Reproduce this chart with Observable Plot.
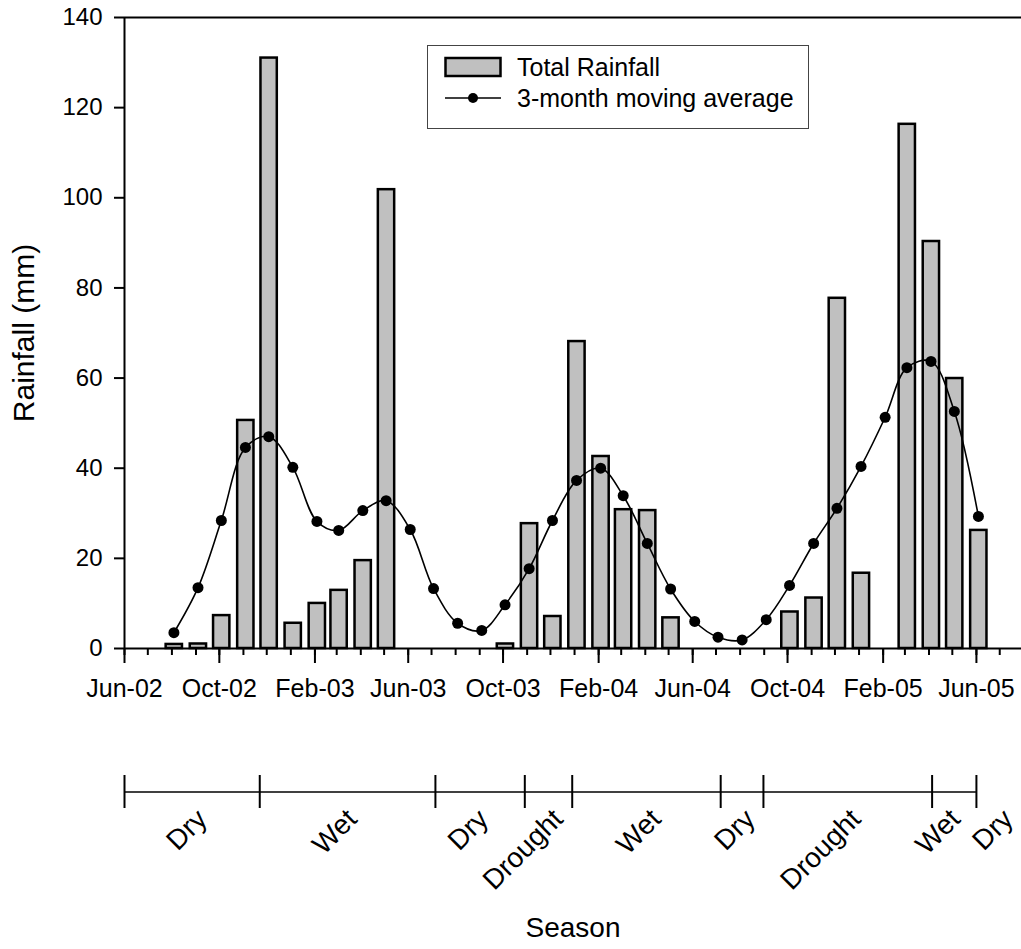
<!DOCTYPE html>
<html>
<head>
<meta charset="utf-8">
<script src="https://cdn.jsdelivr.net/npm/d3@7"></script>
<script src="https://cdn.jsdelivr.net/npm/@observablehq/plot@0.6"></script>
<style>
  body { margin: 0; background: white; }
  #wrap { position: relative; width: 1021px; height: 949px; font-family: "Liberation Sans", Arial, sans-serif; }
  #wrap svg { display: block; }
  #legend {
    position: absolute; left: 427px; top: 45px; width: 382px; height: 84px;
    border: 1.5px solid #444; box-sizing: border-box; background: white;
  }
  #legend .row { position: absolute; left: 16px; display: flex; align-items: center; font-size: 25px; line-height: 30px; }
  #legend .row svg { margin-right: 15px; }
</style>
</head>
<body>
<div id="wrap">
  <div id="main"></div>
  <div id="season"></div>
  <div id="legend">
    <div class="row" style="top:6px"><svg width="58" height="22"><rect x="1.5" y="2" width="55" height="18" fill="#c0c0c0" stroke="black" stroke-width="2.5"/></svg><span>Total Rainfall</span></div>
    <div class="row" style="top:37px"><svg width="58" height="22"><line x1="1" x2="57" y1="11" y2="11" stroke="black" stroke-width="1.5"/><circle cx="29" cy="11" r="5" fill="black"/></svg><span>3-month moving average</span></div>
  </div>
</div>
<script>
// Monthly rainfall, Aug 2002 – Jun 2005
const months = [
  "2002-08","2002-09","2002-10","2002-11","2002-12",
  "2003-01","2003-02","2003-03","2003-04","2003-05","2003-06","2003-07","2003-08","2003-09","2003-10","2003-11","2003-12",
  "2004-01","2004-02","2004-03","2004-04","2004-05","2004-06","2004-07","2004-08","2004-09","2004-10","2004-11","2004-12",
  "2005-01","2005-02","2005-03","2005-04","2005-05","2005-06"
];
const totalRainfall = [
  0.9, 1.0, 7.3, 50.6, 131.0,
  5.6, 10.0, 12.9, 19.5, 101.8, 0, 0, 0, 0, 1.0, 27.7, 7.1,
  68.1, 42.6, 30.8, 30.6, 6.8, 0, 0, 0, 0, 8.1, 11.2, 77.7,
  16.7, 0, 116.3, 90.3, 59.9, 26.2
];
const movingAverage = [
  3.5, 13.5, 28.4, 44.6, 47.0,
  40.2, 28.2, 26.2, 30.6, 32.8, 26.4, 13.3, 5.6, 4.0, 9.7, 17.7, 28.4,
  37.3, 40.0, 33.9, 23.3, 13.2, 6.0, 2.5, 1.9, 6.4, 14.0, 23.3, 31.1,
  40.4, 51.3, 62.3, 63.7, 52.6, 29.3
];
const xTickLabels = ["Jun-02","Oct-02","Feb-03","Jun-03","Oct-03","Feb-04","Jun-04","Oct-04","Feb-05","Jun-05"];
const yTicks = [0, 20, 40, 60, 80, 100, 120, 140];

// Season periods along the time axis
const seasonBounds = ["2002-06-01","2002-11-22","2003-07-06","2003-10-29","2003-12-29","2004-07-07","2004-08-31","2005-04-05","2005-06-01"];
const seasonNames = ["Dry","Wet","Dry","Drought","Wet","Dry","Drought","Wet","Dry"];
const seasonLabelAt = ["2002-09-09","2003-03-21","2003-09-06","2003-12-11","2004-04-15","2004-08-14","2004-12-28","2005-05-05","2005-07-12"];

const parseMonth = d3.utcParse("%Y-%m");
const parseDay = d3.utcParse("%Y-%m-%d");
const parseTick = d3.utcParse("%b-%y");

const rows = months.map((m, i) => ({date: parseMonth(m), rain: totalRainfall[i], avg: movingAverage[i]}));
const xDomain = [parseDay("2002-06-01"), parseDay("2005-07-29")];
const majorTicks = xTickLabels.map(parseTick);
const minorTicks = d3.utcMonth.range(xDomain[0], xDomain[1]);

const font = "'Liberation Sans', Arial, sans-serif";

const main = Plot.plot({
  width: 1021,
  height: 700,
  marginTop: 17,
  marginLeft: 124,
  marginRight: 0,
  marginBottom: 52,
  style: {fontFamily: font, fontSize: "24px", color: "black", background: "white", overflow: "visible"},
  x: {type: "utc", domain: xDomain},
  y: {domain: [0, 140]},
  marks: [
    Plot.rectY(rows.filter(d => d.rain > 0), {
      x1: d => d3.utcDay.offset(d.date, -10),
      x2: d => d3.utcDay.offset(d.date, 11),
      y: "rain",
      fill: "#c0c0c0", stroke: "black", strokeWidth: 2.5, dx: 2
    }),
    Plot.line(rows, {x: "date", y: "avg", curve: "catmull-rom", stroke: "black", strokeWidth: 1.6, dx: 2}),
    Plot.dot(rows, {x: "date", y: "avg", r: 5.5, fill: "black", stroke: "none", dx: 2}),
    Plot.ruleY([0, 140], {stroke: "black", strokeWidth: 2}),
    Plot.ruleX([xDomain[0]], {y1: 0, y2: 140, stroke: "black", strokeWidth: 2}),
    Plot.axisY({ticks: yTicks, tickSize: 10, tickPadding: 12, strokeWidth: 2, label: null, fontSize: 24}),
    Plot.axisX({ticks: minorTicks, tickSize: 7, strokeWidth: 2, tickFormat: () => "", label: null}),
    Plot.axisX({ticks: majorTicks, tickSize: 15, tickPadding: 16, strokeWidth: 2, tickFormat: d3.utcFormat("%b-%y"), label: null, fontSize: 25}),
    Plot.text(["Rainfall (mm)"], {frameAnchor: "left", textAnchor: "middle", dx: -100, rotate: -90, fontSize: 30})
  ]
});
document.getElementById("main").append(main);

const season = Plot.plot({
  width: 1021,
  height: 249,
  marginTop: 0,
  marginLeft: 124,
  marginRight: 0,
  marginBottom: 0,
  style: {fontFamily: font, fontSize: "24px", color: "black", background: "white", overflow: "visible"},
  x: {type: "utc", domain: xDomain, axis: null},
  y: {domain: [-1, 1], range: [108, 75], axis: null},
  marks: [
    Plot.ruleY([0], {x1: parseDay(seasonBounds[0]), x2: parseDay(seasonBounds[seasonBounds.length - 1]), stroke: "black", strokeWidth: 1.5}),
    Plot.ruleX(seasonBounds.map(parseDay), {y1: -1, y2: 1, stroke: "black", strokeWidth: 2}),
    Plot.text(seasonNames, {
      x: (d, i) => parseDay(seasonLabelAt[i]),
      y: -1, dy: 6,
      rotate: -45, textAnchor: "end", fontSize: 28
    }),
    Plot.text(["Season"], {frameAnchor: "bottom", lineAnchor: "middle", dy: -21, fontSize: 28})
  ]
});
document.getElementById("season").append(season);
</script>
</body>
</html>
